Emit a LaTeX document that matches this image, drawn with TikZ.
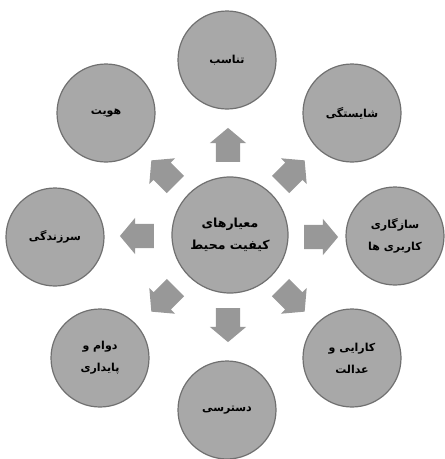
\documentclass[tikz,border=0pt]{standalone}
\usepackage{fontspec}
\usetikzlibrary{shapes.arrows}
\TeXXeTstate=1
\newfontfamily\arabicfont[Script=Arabic]{DejaVu Sans}
\definecolor{circfill}{RGB}{168,168,168}
\definecolor{circedge}{RGB}{112,112,112}
\definecolor{arrfill}{RGB}{152,152,152}
\begin{document}
\begin{tikzpicture}[x=1pt,y=-1pt,
  bubble/.style={circle, fill=circfill, draw=circedge, line width=1.2pt,
    minimum size=98pt, inner sep=0pt, align=center,
    font=\arabicfont\bfseries\fontsize{11}{22}\selectfont},
  hub/.style={bubble, minimum size=116pt,
    font=\arabicfont\bfseries\fontsize{12.5}{22}\selectfont},
  blockarrow/.style={single arrow, fill=arrfill, draw=none,
    inner xsep=0pt, inner ysep=12pt,
    minimum height=34pt, single arrow tip angle=100,
    single arrow head extend=6pt, single arrow head indent=0pt}]
\useasboundingbox (0,0) rectangle (445,459);
\node[hub] (c) at (230,235) {\beginR معیارهای\endR\\\beginR کیفیت محیط\endR};
\node[bubble] (t)  at (227,60)  {\beginR تناسب\endR};
\node[bubble] (tr) at (352,113) {\beginR شایستگی\endR};
\node[bubble] (r)  at (395,236) {\beginR سازگاری\endR\\\beginR کاربری ها\endR};
\node[bubble] (br) at (352,358) {\beginR کارایی و\endR\\\beginR عدالت\endR};
\node[bubble] (b)  at (227,410) {\beginR دسترسی\endR};
\node[bubble] (bl) at (100,358) {\beginR دوام و\endR\\\beginR پایداری\endR};
\node[bubble] (l)  at (55,237)  {\beginR سرزندگی\endR};
\node[bubble] (tl) at (106,113) {\beginR هویت\endR};
\node[blockarrow, rotate=90]  (a1) at (228,150) {};
\node[blockarrow, rotate=45]  (a2) at (289,176) {};
\node[blockarrow, rotate=0]   (a3) at (316,237) {};
\node[blockarrow, rotate=-45] (a4) at (289,296) {};
\node[blockarrow, rotate=-90] (a5) at (228,320) {};
\node[blockarrow, rotate=-135] (a6) at (167,296) {};
\node[blockarrow, rotate=180] (a7) at (142,236) {};
\node[blockarrow, rotate=135] (a8) at (167,176) {};
\end{tikzpicture}
\end{document}
